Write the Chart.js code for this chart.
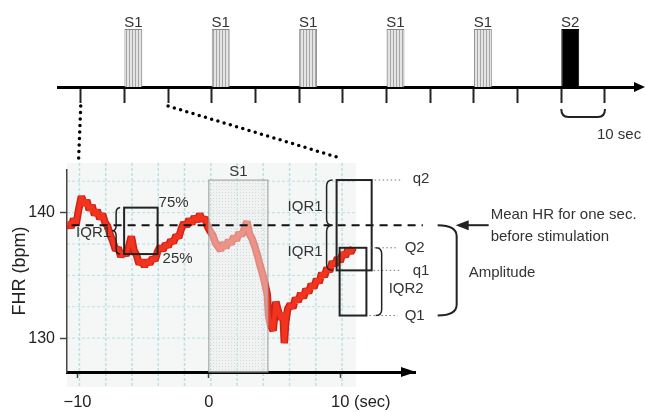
<!DOCTYPE html>
<html>
<head>
<meta charset="utf-8">
<script src="https://cdn.jsdelivr.net/npm/chart.js@4.4.0/dist/chart.umd.min.js"></script>
<style>
  body { margin: 0; background: #fff; }
  #wrap { position: relative; width: 645px; height: 412px; }
  #wrap canvas { position: absolute; left: 0; top: 0; }
</style>
</head>
<body>
<div id="wrap">
  <canvas id="timeline" width="645" height="412"></canvas>
  <canvas id="fhr" width="645" height="412"></canvas>
</div>
<script>
// ---- data ----
// stimulation protocol (top strip), seconds
const stimOnset = [10, 30, 50, 70, 90, 110];
const stimLabel = ['S1', 'S1', 'S1', 'S1', 'S1', 'S2'];
const stimLength = 4.1;
const timelineStep = 10;

// FHR trace around the first S1 (lower panel)
const fhrTime = [
  -10.7, -10.5, -10.3, -10.1, -9.9, -9.7, -9.5, -9.3, -9.1, -8.9,
  -8.7, -8.5, -8.3, -8.1, -7.9, -7.7, -7.5, -7.3, -7.1, -6.9,
  -6.7, -6.5, -6.3, -6.1, -5.9, -5.7, -5.5, -5.3, -5.1, -4.9,
  -4.7, -4.5, -4.3, -4.1, -3.9, -3.7, -3.5, -3.3, -3.1, -2.9,
  -2.7, -2.5, -2.3, -2.1, -1.9, -1.7, -1.5, -1.3, -1.1, -0.9,
  -0.7, -0.5, -0.3, -0.1, 0.1, 0.3, 0.5, 0.7, 0.9, 1.1,
  1.3, 1.5, 1.7, 1.9, 2.1, 2.3, 2.5, 2.7, 2.9, 3.1,
  3.3, 3.5, 3.7, 3.9, 4.1, 4.3, 4.45, 4.55, 4.7, 4.9,
  5.1, 5.3, 5.5, 5.65, 5.75, 5.85, 6.0, 6.2, 6.4, 6.6,
  6.8, 7.0, 7.2, 7.4, 7.6, 7.8, 8.0, 8.2, 8.4, 8.6,
  8.8, 9.0, 9.2, 9.4, 9.6, 9.8, 10.0, 10.2, 10.4, 10.6,
  10.8, 11.0
];
const fhrBpm = [
  139.3, 138.8, 139.5, 139.1, 140.3, 141.3, 140.6, 141.0, 140.2, 140.6,
  139.8, 140.2, 139.5, 139.9, 139.2, 138.9, 138.2, 137.7, 137.0, 137.2,
  136.5, 136.9, 136.6, 137.3, 138.1, 137.0, 136.6, 135.9, 136.2, 135.7,
  136.2, 135.9, 136.4, 136.2, 136.9, 137.3, 137.0, 137.5, 137.3, 137.8,
  137.6, 138.2, 138.0, 138.7, 139.2, 138.9, 139.5, 139.1, 139.7, 139.3,
  139.9, 139.4, 139.6, 138.9, 138.5, 138.2, 137.6, 137.3, 137.0, 137.6,
  137.2, 137.8, 137.5, 138.1, 137.8, 138.4, 138.2, 138.7, 139.3, 138.3,
  137.9, 137.3, 136.6, 135.8, 135.1, 134.2, 133.5, 131.8, 131.0, 130.6,
  132.9, 132.1, 131.5, 132.0, 129.6, 131.2, 132.3, 132.7, 132.4, 133.2,
  132.9, 133.6, 133.2, 133.9, 133.6, 134.3, 134.0, 134.7, 134.4, 135.2,
  134.9, 135.6, 135.3, 136.1, 135.8, 136.4, 136.1, 136.8, 136.5, 137.1,
  136.8, 137.2
];

const meanHR = 139.0;              // mean HR for one sec. before stimulation
const s1Window = [0, 4.5];
const s1Top = 142.6;
const preWindow = [-6.45, -3.9];
const prePct = [136.7, 140.4];     // 25%, 75%
const postOuter = [9.73, 12.4];
const qBounds = [135.4, 142.6];    // q1, q2
const postInner = [9.96, 12.0];
const QBounds = [131.8, 137.2];    // Q1, Q2

const FONT = '"Liberation Sans", Arial, Helvetica, sans-serif';
const INK = '#222';
const TXT = '#333';

// hatched fill for the S1 bars
function stripes(ctx) {
  const c = document.createElement('canvas');
  c.width = 3; c.height = 4;
  const g = c.getContext('2d');
  g.fillStyle = '#e4e4e4'; g.fillRect(0, 0, 3, 4);
  g.fillStyle = '#a6a6a6'; g.fillRect(0, 0, 1, 4);
  return ctx.createPattern(c, 'repeat');
}
function dots(ctx) {
  const c = document.createElement('canvas');
  c.width = 3; c.height = 3;
  const g = c.getContext('2d');
  g.fillStyle = 'rgba(170,170,170,0.35)'; g.fillRect(0, 0, 1, 1);
  return ctx.createPattern(c, 'repeat');
}

function line(ctx, x1, y1, x2, y2) {
  ctx.beginPath(); ctx.moveTo(x1, y1); ctx.lineTo(x2, y2); ctx.stroke();
}
// curly brace, tip pointing to dir (-1 left, +1 right)
function brace(ctx, x, y1, y2, w, dir) {
  const m = (y1 + y2) / 2, r = Math.min(5, (y2 - y1) / 4);
  ctx.beginPath();
  ctx.moveTo(x - dir * w, y1);
  ctx.quadraticCurveTo(x, y1, x, y1 + r);
  ctx.lineTo(x, m - r);
  ctx.quadraticCurveTo(x, m, x + dir * w, m);
  ctx.quadraticCurveTo(x, m, x, m + r);
  ctx.lineTo(x, y2 - r);
  ctx.quadraticCurveTo(x, y2, x - dir * w, y2);
  ctx.stroke();
}
// bracket with rounded ends bending to side (-1 left, +1 right)
function bracket(ctx, x, y1, y2, w, side, r) {
  ctx.beginPath();
  ctx.moveTo(x + side * w, y1);
  ctx.quadraticCurveTo(x, y1, x, y1 + r);
  ctx.lineTo(x, y2 - r);
  ctx.quadraticCurveTo(x, y2, x + side * w, y2);
  ctx.stroke();
}

const timelineDeco = {
  id: 'timelineDeco',
  afterDraw(chart) {
    const {ctx, chartArea: a, scales: {x}} = chart;
    const meta = chart.getDatasetMeta(0);
    ctx.save();
    ctx.fillStyle = '#000';
    ctx.beginPath();
    ctx.moveTo(a.right - 2, a.bottom - 5);
    ctx.lineTo(a.right + 9, a.bottom);
    ctx.lineTo(a.right - 2, a.bottom + 5);
    ctx.closePath(); ctx.fill();

    ctx.font = '15px ' + FONT;
    ctx.fillStyle = TXT;
    ctx.textAlign = 'center';
    ctx.textBaseline = 'alphabetic';
    meta.data.forEach((bar, i) => ctx.fillText(stimLabel[i], bar.x, bar.y - 2));

    // 10 sec scale bracket under S2
    const t0 = stimOnset[stimOnset.length - 1];
    const x1 = x.getPixelForValue(t0), x2 = x.getPixelForValue(t0 + 10);
    const yb = a.bottom + 30;
    ctx.strokeStyle = INK; ctx.lineWidth = 2;
    ctx.beginPath();
    ctx.moveTo(x1, a.bottom + 22);
    ctx.quadraticCurveTo(x1, yb, x1 + 7, yb);
    ctx.lineTo(x2 - 7, yb);
    ctx.quadraticCurveTo(x2, yb, x2, a.bottom + 22);
    ctx.stroke();
    ctx.textAlign = 'left'; ctx.textBaseline = 'middle';
    ctx.fillText('10 sec', x2 - 8, a.bottom + 48);
    ctx.restore();
  }
};

const timelineCanvas = document.getElementById('timeline');
const stripeFill = stripes(timelineCanvas.getContext('2d'));

const timeline = new Chart(timelineCanvas, {
  type: 'bar',
  data: {
    datasets: [{
      data: stimOnset.map(t => ({x: t + stimLength / 2, y: 1})),
      backgroundColor: stimLabel.map(l => l === 'S2' ? '#000' : stripeFill),
      borderColor: stimLabel.map(l => l === 'S2' ? '#000' : '#888'),
      borderWidth: 1,
      categoryPercentage: 1,
      // bar ruler follows the 10 s tick spacing
      barPercentage: stimLength / timelineStep
    }]
  },
  options: {
    responsive: false,
    animation: false,
    layout: {padding: {top: 29, left: 58, right: 9, bottom: 0}},
    plugins: {legend: {display: false}, tooltip: {enabled: false}},
    scales: {
      x: {
        type: 'linear', min: -5.2, max: 127.1, offset: false,
        afterFit: s => { s.height = 412 - 87; },
        grid: {drawOnChartArea: false, offset: false, tickLength: 16, tickWidth: 2, tickColor: INK},
        border: {color: '#000', width: 3},
        ticks: {display: false, stepSize: timelineStep, includeBounds: false}
      },
      y: {display: false, min: 0, max: 1}
    }
  },
  plugins: [timelineDeco]
});

const paper = {
  id: 'paper',
  beforeDraw(chart) {
    const {ctx, chartArea: a, scales: {x}} = chart;
    const y = chart.scales.y;
    const L = a.left, R = x.getPixelForValue(11.2), T = a.top - 7, B = a.bottom + 15;
    ctx.save();
    ctx.fillStyle = '#f5f7f7';
    ctx.fillRect(L, T, R - L, B - T);
    ctx.strokeStyle = 'rgba(130,205,205,0.5)';
    ctx.lineWidth = 1.5;
    ctx.setLineDash([3, 2]);
    for (let v = -9.85; v < 11.2; v += 2) {
      const px = x.getPixelForValue(v);
      line(ctx, px, T, px, B);
    }
    ctx.lineWidth = 1;
    for (let v = 130; v <= 142.5; v += 2.5) {
      const py = y.getPixelForValue(v);
      line(ctx, L, py, R, py);
    }
    ctx.restore();
  }
};

const overlay = {
  id: 'overlay',
  afterDatasetsDraw(chart) {
    const {ctx, chartArea: a, scales: {x, y}} = chart;
    ctx.save();

    // S1 window
    const sx0 = x.getPixelForValue(s1Window[0]), sx1 = x.getPixelForValue(s1Window[1]);
    const sTop = y.getPixelForValue(s1Top);
    ctx.fillStyle = 'rgba(238,238,238,0.5)';
    ctx.fillRect(sx0, sTop, sx1 - sx0, a.bottom - sTop);
    ctx.fillStyle = dots(ctx);
    ctx.fillRect(sx0, sTop, sx1 - sx0, a.bottom - sTop);
    ctx.strokeStyle = '#9a9a9a'; ctx.lineWidth = 1;
    ctx.strokeRect(sx0, sTop, sx1 - sx0, a.bottom - sTop);
    ctx.font = '15px ' + FONT; ctx.fillStyle = TXT;
    ctx.textAlign = 'center'; ctx.textBaseline = 'middle';
    ctx.fillText('S1', (sx0 + sx1) / 2, sTop - 8);

    // mean HR dashed line
    const yMean = y.getPixelForValue(meanHR);
    ctx.strokeStyle = '#111'; ctx.lineWidth = 2; ctx.setLineDash([8, 6]);
    line(ctx, x.getPixelForValue(-10.45), yMean, x.getPixelForValue(16.3), yMean);
    ctx.setLineDash([]);

    // pre-stimulus IQR box
    ctx.strokeStyle = INK; ctx.lineWidth = 2;
    const px0 = x.getPixelForValue(preWindow[0]), px1 = x.getPixelForValue(preWindow[1]);
    const p25 = y.getPixelForValue(prePct[0]), p75 = y.getPixelForValue(prePct[1]);
    ctx.strokeRect(px0, p75, px1 - px0, p25 - p75);
    ctx.lineWidth = 1.5;
    brace(ctx, px0 - 8, p75, p25, 4, -1);
    ctx.fillStyle = TXT; ctx.textBaseline = 'middle';
    ctx.textAlign = 'left';
    ctx.fillText('75%', px1 + 1, p75 - 5);
    ctx.fillText('25%', px1 + 5, p25 + 5);
    ctx.textAlign = 'right';
    ctx.fillText('IQR1', px0 - 13, (p75 + p25) / 2 + 2);

    // post-stimulus boxes
    const ox0 = x.getPixelForValue(postOuter[0]), ox1 = x.getPixelForValue(postOuter[1]);
    const ix0 = x.getPixelForValue(postInner[0]), ix1 = x.getPixelForValue(postInner[1]);
    const q1 = y.getPixelForValue(qBounds[0]), q2 = y.getPixelForValue(qBounds[1]);
    const Q1 = y.getPixelForValue(QBounds[0]), Q2 = y.getPixelForValue(QBounds[1]);
    ctx.lineWidth = 2; ctx.strokeStyle = INK;
    ctx.strokeRect(ox0, q2, ox1 - ox0, q1 - q2);
    ctx.strokeRect(ix0, Q2, ix1 - ix0, Q1 - Q2);

    ctx.lineWidth = 1.5;
    bracket(ctx, ox0 - 10, q2, yMean, 6, 1, 6);
    bracket(ctx, ox0 - 10, yMean, q1, 6, 1, 6);
    ctx.textAlign = 'right';
    ctx.fillText('IQR1', ox0 - 14, (q2 + yMean) / 2 + 4);
    ctx.fillText('IQR1', ox0 - 14, (yMean + q1) / 2 + 4);

    // dotted leaders and labels
    ctx.strokeStyle = '#777'; ctx.lineWidth = 1; ctx.setLineDash([1.5, 2.5]);
    line(ctx, ox1 + 3, q2, ox1 + 29, q2);
    line(ctx, ix1 + 4, Q2, ox1 + 26, Q2);
    line(ctx, ox1 + 2, q1, ox1 + 29, q1);
    line(ctx, ix1 + 3, Q1, ox1 + 26, Q1);
    ctx.setLineDash([]);
    ctx.textAlign = 'left';
    ctx.fillText('q2', ox1 + 41, q2 - 1);
    ctx.fillText('Q2', ox1 + 33, Q2);
    ctx.fillText('q1', ox1 + 41, q1);
    ctx.fillText('Q1', ox1 + 33, Q1);
    ctx.fillText('IQR2', ox1 + 17, (Q2 + Q1) / 2 + 7);

    ctx.strokeStyle = INK; ctx.lineWidth = 1.5;
    bracket(ctx, ox1 + 10, Q2, Q1, 6, -1, 6);
    ctx.lineWidth = 2;
    bracket(ctx, ox1 + 85, yMean, Q1, 19, -1, 11);
    ctx.fillText('Amplitude', ox1 + 97, (yMean + Q1) / 2 + 2);

    // arrow to mean line
    const tip = ox1 + 84;
    line(ctx, tip + 8, yMean, ox1 + 117, yMean);
    ctx.fillStyle = INK;
    ctx.beginPath();
    ctx.moveTo(tip, yMean); ctx.lineTo(tip + 13, yMean - 5); ctx.lineTo(tip + 13, yMean + 5);
    ctx.closePath(); ctx.fill();
    ctx.fillStyle = TXT;
    ctx.fillText('Mean HR for one sec.', ox1 + 119, yMean - 10);
    ctx.fillText('before stimulation', ox1 + 119, yMean + 12);
    ctx.restore();
  },
  afterDraw(chart) {
    const {ctx, chartArea: a, scales: {x}} = chart;
    ctx.save();
    // x axis arrow head
    ctx.fillStyle = '#000';
    ctx.beginPath();
    ctx.moveTo(a.right - 14, a.bottom - 5);
    ctx.lineTo(a.right + 1, a.bottom);
    ctx.lineTo(a.right - 14, a.bottom + 5);
    ctx.closePath(); ctx.fill();

    // unit after the "10" tick
    ctx.font = '16.5px ' + FONT;
    ctx.fillStyle = INK;
    ctx.textAlign = 'left'; ctx.textBaseline = 'middle';
    const w10 = ctx.measureText('10').width;
    ctx.fillText(' (sec)', x.getPixelForValue(10) + w10 / 2, a.bottom + 6 + 15 + 9.9);

    // zoom connectors from the timeline
    const tx = timeline.scales.x, ta = timeline.chartArea;
    ctx.strokeStyle = '#000'; ctx.lineWidth = 3.5; ctx.lineCap = 'round';
    ctx.setLineDash([0, 6.5]);
    line(ctx, tx.getPixelForValue(0), ta.bottom + 19, x.getPixelForValue(-10) + 1, a.top - 8);
    line(ctx, tx.getPixelForValue(20), ta.bottom + 19, x.getPixelForValue(10), a.top - 12);
    ctx.restore();
  }
};

const fhrPoints = fhrTime.map((t, i) => ({x: t, y: fhrBpm[i]}));

const fhr = new Chart(document.getElementById('fhr'), {
  type: 'line',
  data: {
    datasets: [
      {data: fhrPoints, borderColor: '#f2341f', borderWidth: 4.5, pointRadius: 0, borderJoinStyle: 'bevel'},
      {data: fhrPoints, borderColor: '#cc2117', borderWidth: 7.5, pointRadius: 0, borderJoinStyle: 'bevel'}
    ]
  },
  options: {
    responsive: false,
    animation: false,
    layout: {padding: {top: 170, right: 230, left: 0, bottom: 0}},
    plugins: {legend: {display: false}, tooltip: {enabled: false}},
    scales: {
      x: {
        type: 'linear', min: -10.8, max: 15.7,
        afterFit: s => { s.height = 40; },
        grid: {drawOnChartArea: false, tickLength: 6, tickWidth: 1.5, tickColor: '#444'},
        border: {color: '#000', width: 3},
        ticks: {
          stepSize: 10, includeBounds: false, padding: 15, color: INK,
          font: {family: FONT, size: 16.5},
          callback: v => v < 0 ? '\u2212' + Math.abs(v) : String(v)
        }
      },
      y: {
        min: 127.3, max: 143.4,
        afterFit: s => { s.width = 67; },
        grid: {drawOnChartArea: false, tickLength: 7, tickWidth: 1.5, tickColor: '#444'},
        border: {color: '#444', width: 1.5},
        ticks: {stepSize: 10, includeBounds: false, padding: 5, color: INK, font: {family: FONT, size: 16}},
        title: {display: true, text: 'FHR (bpm)', color: INK, font: {family: FONT, size: 18}, padding: {top: 9, bottom: 0}}
      }
    }
  },
  plugins: [paper, overlay]
});
</script>
</body>
</html>
